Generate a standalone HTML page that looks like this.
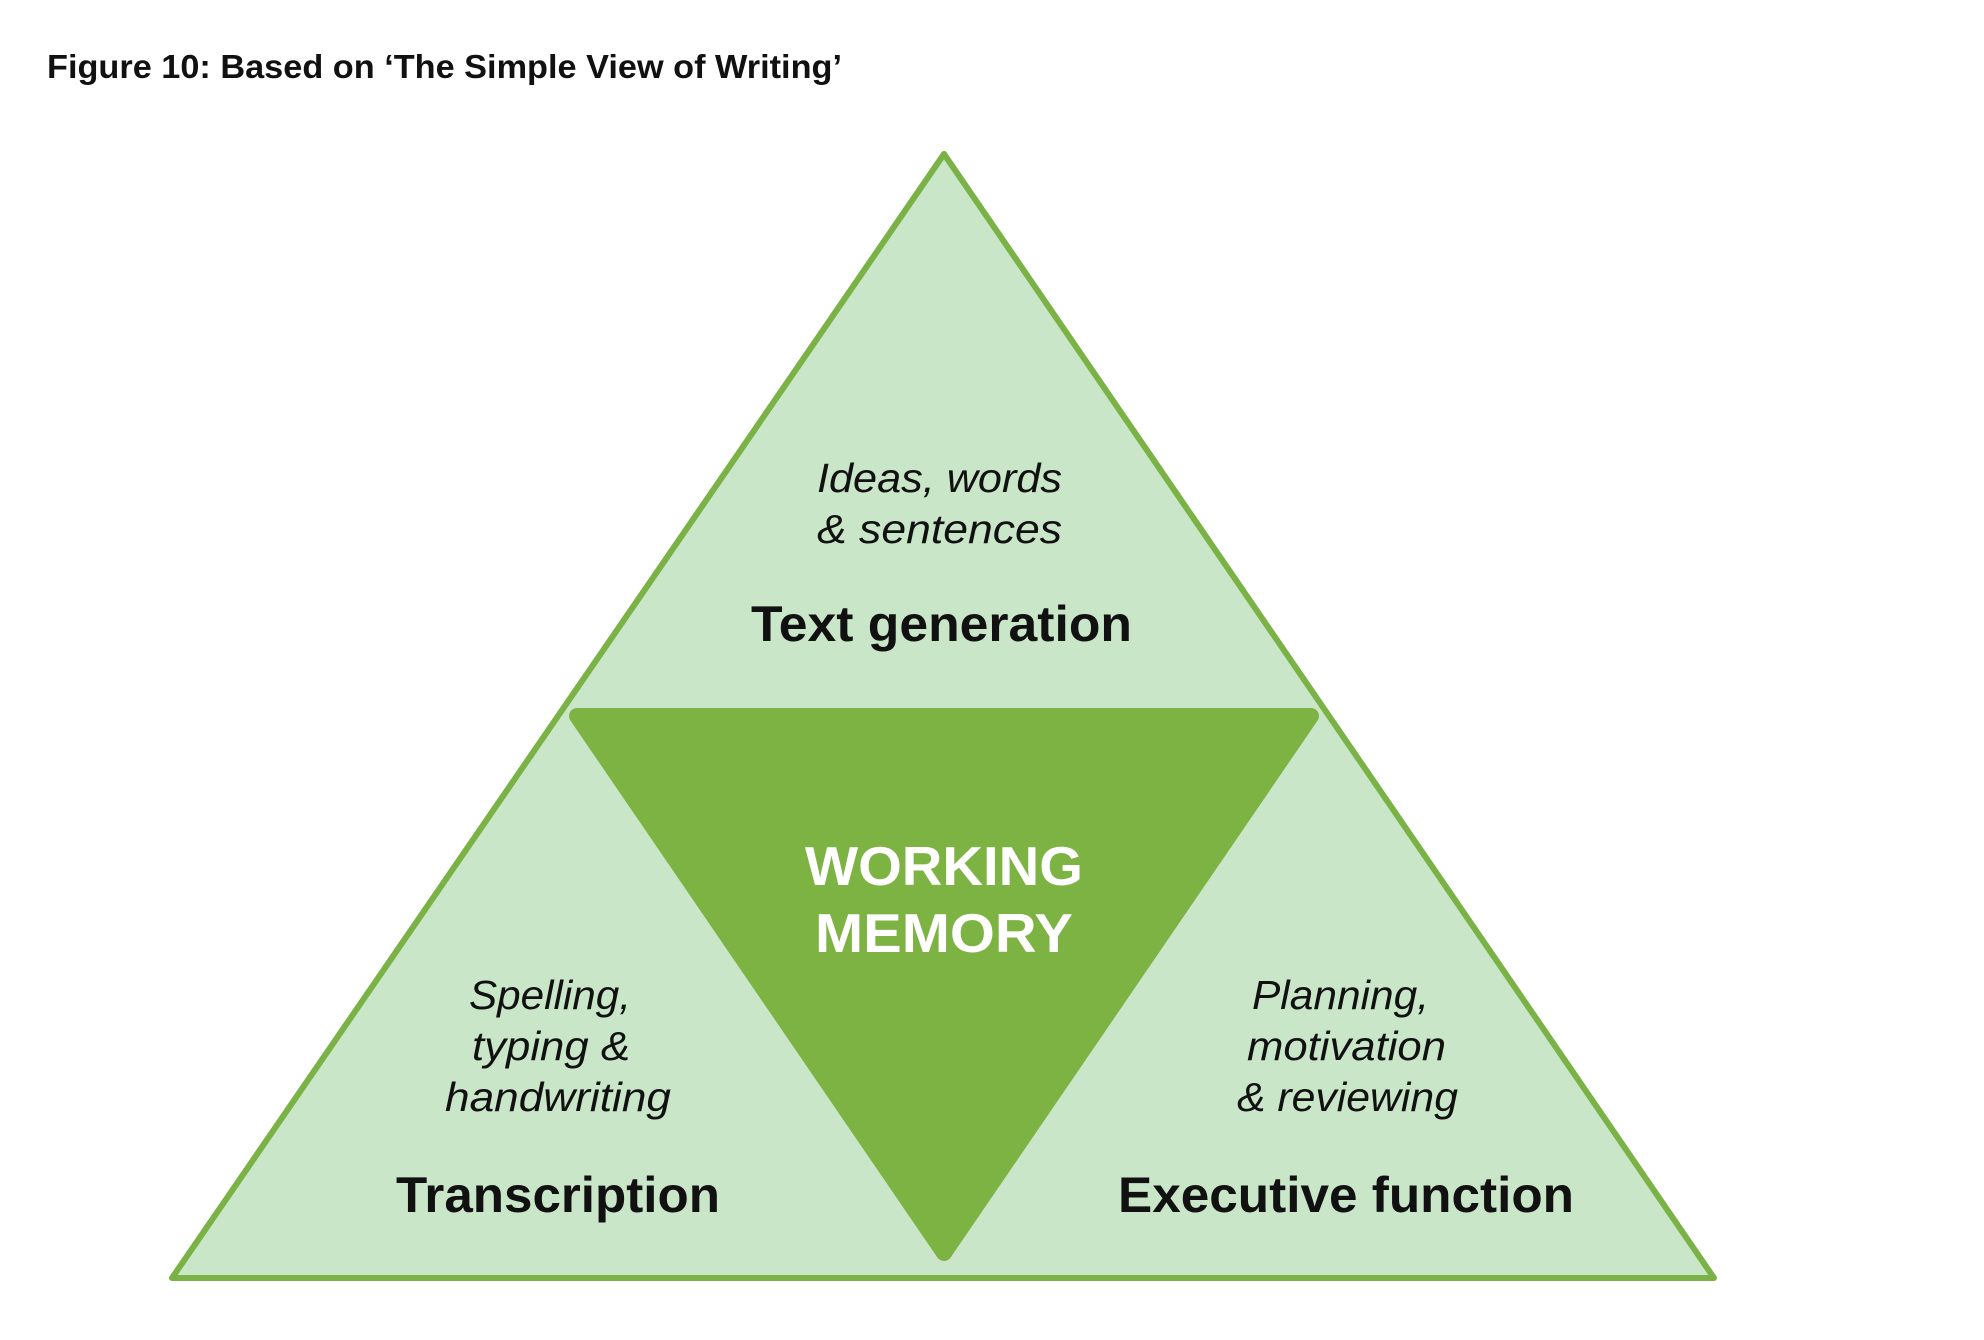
<!DOCTYPE html>
<html><head><meta charset="utf-8"><style>
html,body{margin:0;padding:0;background:#fff;}
svg{display:block;}
text{font-family:"Liberation Sans",sans-serif;}
</style></head><body>
<svg width="1984" height="1340" viewBox="0 0 1984 1340" xmlns="http://www.w3.org/2000/svg">
<text x="47" y="78" font-size="33" font-weight="bold" fill="#111" textLength="795" lengthAdjust="spacingAndGlyphs">Figure 10: Based on ‘The Simple View of Writing’</text>
<polygon points="944,154 172,1278 1714,1278" fill="#c9e6c9" stroke="#7ab246" stroke-width="6" stroke-linejoin="round"/>
<polygon points="577,716 1311,716 944,1253" fill="#7db343" stroke="#7db343" stroke-width="16" stroke-linejoin="round"/>
<g fill="#111" font-style="italic" font-size="41">
<text x="817" y="492" textLength="245" lengthAdjust="spacingAndGlyphs">Ideas, words</text>
<text x="817" y="543" textLength="245" lengthAdjust="spacingAndGlyphs">&amp;  sentences</text>
<text x="469" y="1009" textLength="162" lengthAdjust="spacingAndGlyphs">Spelling,</text>
<text x="472" y="1060" textLength="158" lengthAdjust="spacingAndGlyphs">typing &amp;</text>
<text x="445" y="1111" textLength="226" lengthAdjust="spacingAndGlyphs">handwriting</text>
<text x="1252" y="1009" textLength="177" lengthAdjust="spacingAndGlyphs">Planning,</text>
<text x="1247" y="1060" textLength="199" lengthAdjust="spacingAndGlyphs">motivation</text>
<text x="1237" y="1111" textLength="221" lengthAdjust="spacingAndGlyphs">&amp; reviewing</text>
</g>
<g fill="#111" font-weight="bold" font-size="50">
<text x="751" y="641" textLength="381" lengthAdjust="spacingAndGlyphs">Text generation</text>
<text x="396" y="1212" textLength="324" lengthAdjust="spacingAndGlyphs">Transcription</text>
<text x="1118" y="1212" textLength="456" lengthAdjust="spacingAndGlyphs">Executive function</text>
</g>
<g fill="#fff" font-weight="bold" font-size="55">
<text x="805" y="885" textLength="278" lengthAdjust="spacingAndGlyphs">WORKING</text>
<text x="815" y="952" textLength="258" lengthAdjust="spacingAndGlyphs">MEMORY</text>
</g>
</svg>
</body></html>
